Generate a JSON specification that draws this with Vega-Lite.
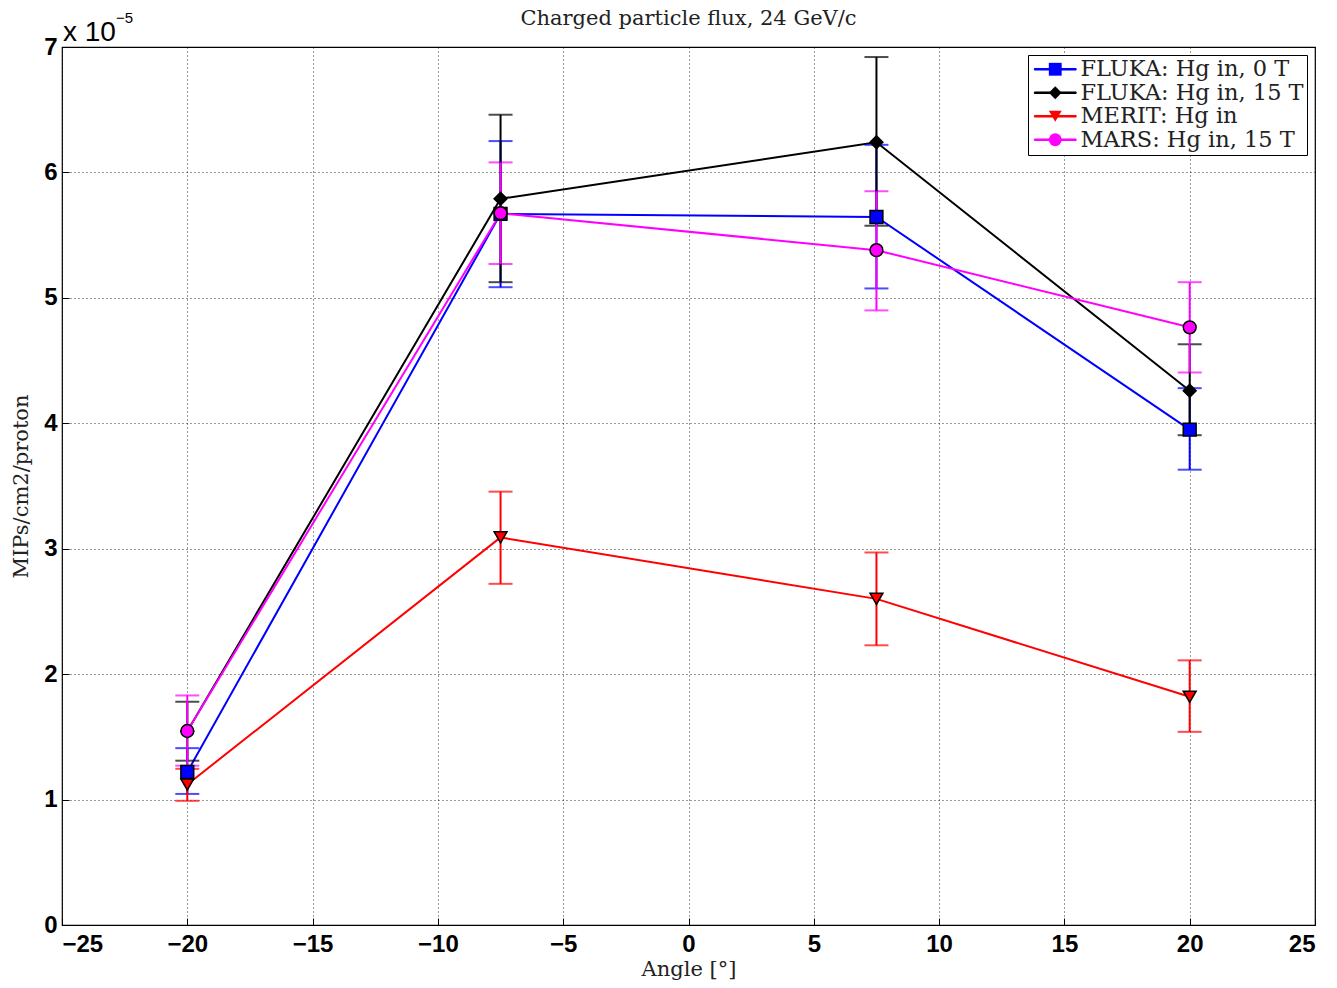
{
  "$schema": "https://vega.github.io/schema/vega-lite/v6.json",
  "width": 1253,
  "height": 878,
  "autosize": {"type": "none"},
  "padding": {"left": 62, "top": 47, "right": 22, "bottom": 63},
  "background": "white",
  "title": {"text": "Charged particle flux, 24 GeV/c", "font": "DejaVu Serif", "fontSize": 21, "fontWeight": "normal", "color": "#222222", "offset": 0, "dy": 18, "anchor": "middle", "frame": "group"},
  "config": {
    "view": {"stroke": "black", "strokeWidth": 1.2},
    "axis": {
      "labelFont": "Liberation Sans", "labelFontWeight": "bold", "labelFontSize": 24, "labelColor": "black",
      "titleFont": "DejaVu Serif", "titleFontWeight": "normal", "titleFontSize": 21, "titleColor": "#222222",
      "grid": true, "gridColor": "black", "gridDash": [1, 3], "gridOpacity": 0.8, "gridWidth": 1,
      "domain": false, "ticks": true, "tickSize": -7, "tickColor": "black", "tickWidth": 1, "format": "d"
    }
  },
  "datasets": {
    "flux": [
      {"series": "FLUKA: Hg in, 0 T", "angle": -20, "flux": 1.22, "lo": 1.045, "hi": 1.41},
      {"series": "FLUKA: Hg in, 0 T", "angle": -7.5, "flux": 5.67, "lo": 5.085, "hi": 6.25},
      {"series": "FLUKA: Hg in, 0 T", "angle": 7.5, "flux": 5.645, "lo": 5.075, "hi": 6.22},
      {"series": "FLUKA: Hg in, 0 T", "angle": 20, "flux": 3.95, "lo": 3.63, "hi": 4.28},
      {"series": "FLUKA: Hg in, 15 T", "angle": -20, "flux": 1.545, "lo": 1.31, "hi": 1.78},
      {"series": "FLUKA: Hg in, 15 T", "angle": -7.5, "flux": 5.79, "lo": 5.125, "hi": 6.46},
      {"series": "FLUKA: Hg in, 15 T", "angle": 7.5, "flux": 6.24, "lo": 5.575, "hi": 6.92},
      {"series": "FLUKA: Hg in, 15 T", "angle": 20, "flux": 4.26, "lo": 3.905, "hi": 4.63},
      {"series": "MERIT: Hg in", "angle": -20, "flux": 1.12, "lo": 0.99, "hi": 1.245},
      {"series": "MERIT: Hg in", "angle": -7.5, "flux": 3.09, "lo": 2.72, "hi": 3.455},
      {"series": "MERIT: Hg in", "angle": 7.5, "flux": 2.6, "lo": 2.23, "hi": 2.97},
      {"series": "MERIT: Hg in", "angle": 20, "flux": 1.82, "lo": 1.54, "hi": 2.11},
      {"series": "MARS: Hg in, 15 T", "angle": -20, "flux": 1.547, "lo": 1.27, "hi": 1.83},
      {"series": "MARS: Hg in, 15 T", "angle": -7.5, "flux": 5.675, "lo": 5.27, "hi": 6.08},
      {"series": "MARS: Hg in, 15 T", "angle": 7.5, "flux": 5.38, "lo": 4.9, "hi": 5.85},
      {"series": "MARS: Hg in, 15 T", "angle": 20, "flux": 4.765, "lo": 4.405, "hi": 5.125}
    ]
  },
  "data": {"name": "flux"},
  "layer": [
    {
      "mark": {"type": "line", "strokeWidth": 2},
      "encoding": {
        "x": {"field": "angle", "type": "quantitative", "scale": {"domain": [-25, 25], "nice": false}, "axis": {"values": [-25, -20, -15, -10, -5, 0, 5, 10, 15, 20, 25], "title": "Angle [°]", "labelPadding": 14, "titlePadding": 2}},
        "y": {"field": "flux", "type": "quantitative", "scale": {"domain": [0, 7], "nice": false}, "axis": {"values": [0, 1, 2, 3, 4, 5, 6, 7], "title": "MIPs/cm2/proton", "labelPadding": 12, "titlePadding": 12}},
        "color": {"field": "series", "type": "nominal",
          "sort": ["FLUKA: Hg in, 0 T", "FLUKA: Hg in, 15 T", "MERIT: Hg in", "MARS: Hg in, 15 T"],
          "scale": {"range": ["#0000ff", "#000000", "#ff0000", "#ff00ff"]},
          "legend": {"orient": "none", "legendX": 966, "legendY": 8, "title": null, "symbolType": "M-3.25,-0.12H3.25V0.12H-3.25Z", "symbolSize": 165, "symbolStrokeWidth": 1, "symbolOffset": 13, "labelOffset": 14, "labelFont": "DejaVu Serif", "labelFontSize": 22.5, "labelColor": "#222222", "labelLimit": 400, "padding": 3, "rowPadding": 0.5, "strokeColor": "black", "fillColor": "white", "zindex": 1,
            "encode": {"symbols": {"update": {"stroke": {"scale": "color", "field": "value"}, "fill": {"scale": "color", "field": "value"}, "opacity": {"value": 1}}}}}
        }
      }
    },
    {
      "mark": {"type": "errorbar", "ticks": {"size": 24}, "thickness": 2},
      "encoding": {
        "x": {"field": "angle", "type": "quantitative"},
        "y": {"field": "lo", "type": "quantitative", "title": "MIPs/cm2/proton"},
        "y2": {"field": "hi"},
        "color": {"field": "series", "type": "nominal", "sort": ["FLUKA: Hg in, 0 T", "FLUKA: Hg in, 15 T", "MERIT: Hg in", "MARS: Hg in, 15 T"]}
      }
    },
    {
      "mark": {"type": "point", "filled": true, "size": 165, "stroke": "black", "strokeWidth": 1.5, "opacity": 1},
      "encoding": {
        "x": {"field": "angle", "type": "quantitative"},
        "y": {"field": "flux", "type": "quantitative", "title": "MIPs/cm2/proton"},
        "fill": {"field": "series", "type": "nominal",
          "scale": {"domain": ["FLUKA: Hg in, 0 T", "FLUKA: Hg in, 15 T", "MERIT: Hg in", "MARS: Hg in, 15 T"], "range": ["#0000ff", "#000000", "#ff0000", "#ff00ff"]},
          "legend": {"orient": "none", "legendX": 966, "legendY": 8, "title": null, "symbolSize": 165, "symbolStrokeColor": "black", "symbolStrokeWidth": 1.5, "symbolOpacity": 1, "symbolOffset": 13, "labelOffset": 14, "labelFont": "DejaVu Serif", "labelFontSize": 22.5, "labelColor": "rgba(0,0,0,0)", "labelLimit": 400, "padding": 3, "rowPadding": 0.5, "zindex": 2}
        },
        "shape": {"field": "series", "type": "nominal",
          "scale": {"domain": ["FLUKA: Hg in, 0 T", "FLUKA: Hg in, 15 T", "MERIT: Hg in", "MARS: Hg in, 15 T"], "range": ["square", "diamond", "triangle-down", "circle"]},
          "legend": {"orient": "none", "legendX": 966, "legendY": 8, "title": null, "symbolSize": 165, "symbolStrokeColor": "black", "symbolStrokeWidth": 1.5, "symbolOpacity": 1, "symbolOffset": 13, "labelOffset": 14, "labelFont": "DejaVu Serif", "labelFontSize": 22.5, "labelColor": "rgba(0,0,0,0)", "labelLimit": 400, "padding": 3, "rowPadding": 0.5, "zindex": 2}
        }
      }
    },
    {
      "data": {"values": [{"label": "x 10"}]},
      "mark": {"type": "text", "align": "left", "baseline": "alphabetic", "dx": 1, "dy": -6, "font": "Liberation Sans", "fontSize": 28, "color": "black"},
      "encoding": {
        "x": {"datum": -25, "type": "quantitative"},
        "y": {"datum": 7, "type": "quantitative"},
        "text": {"field": "label"}
      }
    },
    {
      "data": {"values": [{"label": "−5"}]},
      "mark": {"type": "text", "align": "left", "baseline": "alphabetic", "dx": 54, "dy": -24, "font": "Liberation Sans", "fontSize": 15, "color": "black"},
      "encoding": {
        "x": {"datum": -25, "type": "quantitative"},
        "y": {"datum": 7, "type": "quantitative"},
        "text": {"field": "label"}
      }
    }
  ]
}
